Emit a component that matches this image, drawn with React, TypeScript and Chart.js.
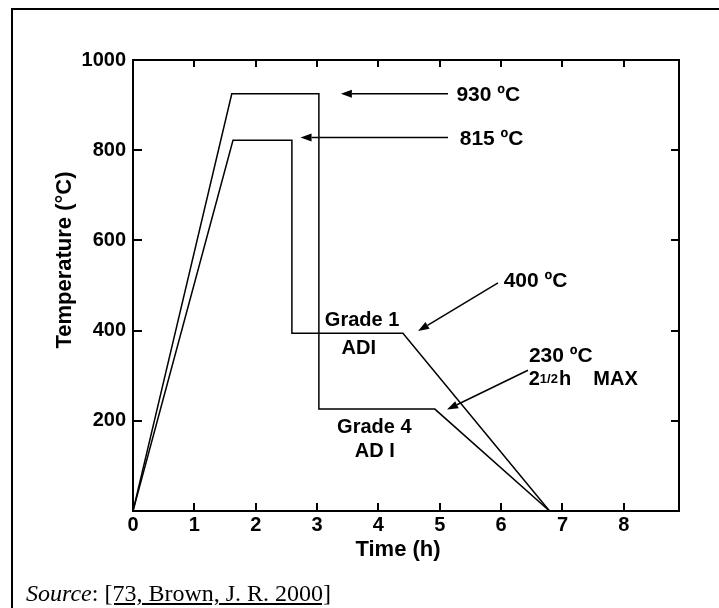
import React, { useEffect, useRef } from "react";
import { Chart, registerables } from "chart.js";

Chart.register(...registerables);

// ---- data ----
const timeTicks = [0, 1, 2, 3, 4, 5, 6, 7, 8];
const tempTicks = [200, 400, 600, 800, 1000];

// Grade 4 ADI cycle (austenitize 930 °C, austemper 230 °C)
const grade4Time = [0, 1.61, 3.03, 3.03, 4.92, 6.79];
const grade4Temp = [0, 925, 925, 226, 226, 0];

// Grade 1 ADI cycle (austenitize 815 °C, austemper 400 °C)
const grade1Time = [0, 1.63, 2.59, 2.59, 4.4, 6.79];
const grade1Temp = [0, 822, 822, 394, 394, 0];

const FONT = "'Liberation Sans', Arial, Helvetica, sans-serif";

// annotation texts: [text, time, temperature (baseline), size]
const annoTexts: [string, number, number, number][] = [
  ["930 ºC", 5.272, 908, 21],
  ["815 ºC", 5.326, 811, 21],
  ["400 ºC", 6.042, 496, 21],
  ["Grade 1", 3.127, 411, 20],
  ["ADI", 3.399, 349, 20],
  ["Grade 4", 3.327, 174, 20],
  ["AD I", 3.616, 120, 20],
  ["230 ºC", 6.454, 331, 21],
];
// arrows: [tailTime, tailTemp, tipTime, tipTemp]
const annoArrows: [number, number, number, number][] = [
  [5.135, 925, 3.388, 925],
  [5.135, 828, 2.731, 828],
  [5.95, 506, 4.647, 399],
  [6.438, 312, 5.119, 225],
];

const toPts = (xs: number[], ys: number[]) => xs.map((v, i) => ({ x: v, y: ys[i] }));

const framePlugin = {
  id: "frameAndNotes",
  afterDraw(chart: any) {
    const { ctx, chartArea: a } = chart;
    const xs = chart.scales.x;
    const ys = chart.scales.y;
    ctx.save();
    ctx.strokeStyle = "#000";
    ctx.fillStyle = "#000";
    ctx.lineWidth = 2;
    ctx.strokeRect(a.left, a.top, a.right - a.left, a.bottom - a.top);
    ctx.beginPath();
    for (const v of timeTicks) {
      if (v === 0) continue;
      const px = Math.round(xs.getPixelForValue(v));
      ctx.moveTo(px, a.bottom);
      ctx.lineTo(px, a.bottom - 8);
      ctx.moveTo(px, a.top);
      ctx.lineTo(px, a.top + 7);
    }
    for (const v of tempTicks) {
      if (v === 1000) continue;
      const py = Math.round(ys.getPixelForValue(v));
      ctx.moveTo(a.left, py);
      ctx.lineTo(a.left + 9, py);
      ctx.moveTo(a.right, py);
      ctx.lineTo(a.right - 8, py);
    }
    ctx.stroke();

    // arrows
    ctx.lineWidth = 1.5;
    for (const [t1, T1, t2, T2] of annoArrows) {
      const x1 = xs.getPixelForValue(t1);
      const y1 = ys.getPixelForValue(T1);
      const x2 = xs.getPixelForValue(t2);
      const y2 = ys.getPixelForValue(T2);
      const ang = Math.atan2(y2 - y1, x2 - x1);
      const hl = 11;
      const hw = 4;
      const bx = x2 - hl * Math.cos(ang);
      const by = y2 - hl * Math.sin(ang);
      ctx.beginPath();
      ctx.moveTo(x1, y1);
      ctx.lineTo(bx, by);
      ctx.stroke();
      ctx.beginPath();
      ctx.moveTo(x2, y2);
      ctx.lineTo(bx + hw * Math.sin(ang), by - hw * Math.cos(ang));
      ctx.lineTo(bx - hw * Math.sin(ang), by + hw * Math.cos(ang));
      ctx.closePath();
      ctx.fill();
    }

    // texts
    ctx.textAlign = "left";
    ctx.textBaseline = "alphabetic";
    for (const [txt, t, T, size] of annoTexts) {
      ctx.font = `bold ${size}px ${FONT}`;
      ctx.fillText(txt, xs.getPixelForValue(t), ys.getPixelForValue(T));
    }
    // 2 1/2 h MAX
    {
      let x = xs.getPixelForValue(6.45);
      const y = ys.getPixelForValue(279);
      ctx.font = `bold 20px ${FONT}`;
      ctx.fillText("2", x, y);
      x += ctx.measureText("2").width;
      ctx.font = `bold 13px ${FONT}`;
      ctx.fillText("1/2", x, y - 2);
      x += ctx.measureText("1/2").width + 1;
      ctx.font = `bold 20px ${FONT}`;
      ctx.fillText("h    MAX", x, y);
    }

    // axis titles
    ctx.font = `bold 22px ${FONT}`;
    ctx.textAlign = "center";
    ctx.fillText("Time (h)", a.left + 265, a.bottom + 45);
    ctx.save();
    ctx.translate(a.left - 62, a.top + 200);
    ctx.rotate(-Math.PI / 2);
    ctx.fillText("Temperature (°C)", 0, 0);
    ctx.restore();
    ctx.restore();
  },
};

export default function App() {
  const ref = useRef<HTMLCanvasElement | null>(null);
  useEffect(() => {
    if (!ref.current) return;
    const tickFont = { family: FONT, size: 20, weight: "bold" as const };
    const chart = new Chart(ref.current, {
      type: "scatter",
      data: {
        datasets: [
          {
            label: "Grade 4 ADI",
            data: toPts(grade4Time, grade4Temp),
            showLine: true,
            borderColor: "#000",
            borderWidth: 1.5,
            pointRadius: 0,
            tension: 0,
          },
          {
            label: "Grade 1 ADI",
            data: toPts(grade1Time, grade1Temp),
            showLine: true,
            borderColor: "#000",
            borderWidth: 1.5,
            pointRadius: 0,
            tension: 0,
          },
        ],
      },
      options: {
        animation: false,
        responsive: false,
        devicePixelRatio: 1,
        layout: { padding: { top: 60, right: 40, left: 0, bottom: 0 } },
        plugins: { legend: { display: false }, tooltip: { enabled: false } },
        scales: {
          x: {
            type: "linear",
            position: "bottom",
            min: 0,
            max: 8.9,
            grid: { display: false, drawTicks: false, tickLength: 0 },
            border: { display: false },
            afterBuildTicks: (s: any) => {
              s.ticks = timeTicks.map((v) => ({ value: v }));
            },
            afterFit: (s: any) => {
              s.height = 97;
            },
            ticks: {
              font: tickFont,
              color: "#000",
              padding: 2,
              maxRotation: 0,
              autoSkip: false,
              callback: (v: any) => String(v),
            },
          },
          y: {
            type: "linear",
            min: 0,
            max: 1000,
            grid: { display: false, drawTicks: false, tickLength: 0 },
            border: { display: false },
            afterBuildTicks: (s: any) => {
              s.ticks = tempTicks.map((v) => ({ value: v }));
            },
            afterFit: (s: any) => {
              s.width = 133;
            },
            ticks: {
              font: tickFont,
              color: "#000",
              padding: 7,
              autoSkip: false,
              callback: (v: any) => String(v),
            },
          },
        },
      },
      plugins: [framePlugin],
    });
    return () => chart.destroy();
  }, []);

  return (
    <div
      style={{
        position: "fixed",
        left: 0,
        top: 0,
        width: 719,
        height: 608,
        overflow: "hidden",
        background: "#fff",
      }}
    >
      <div
        style={{
          position: "absolute",
          left: 11,
          top: 8,
          width: 800,
          height: 700,
          border: "2px solid #000",
          boxSizing: "border-box",
        }}
      />
      <canvas
        ref={ref}
        width={719}
        height={608}
        style={{ position: "absolute", left: 0, top: 0, width: 719, height: 608 }}
      />
      <div
        style={{
          position: "absolute",
          left: 26,
          top: 581,
          fontFamily: "'Liberation Serif', 'Times New Roman', serif",
          fontSize: 24,
          lineHeight: 1,
          whiteSpace: "nowrap",
          color: "#000",
        }}
      >
        <i>Source</i>: <span style={{ textDecoration: "underline" }}>[73, Brown, J. R. 2000]</span>
      </div>
    </div>
  );
}
